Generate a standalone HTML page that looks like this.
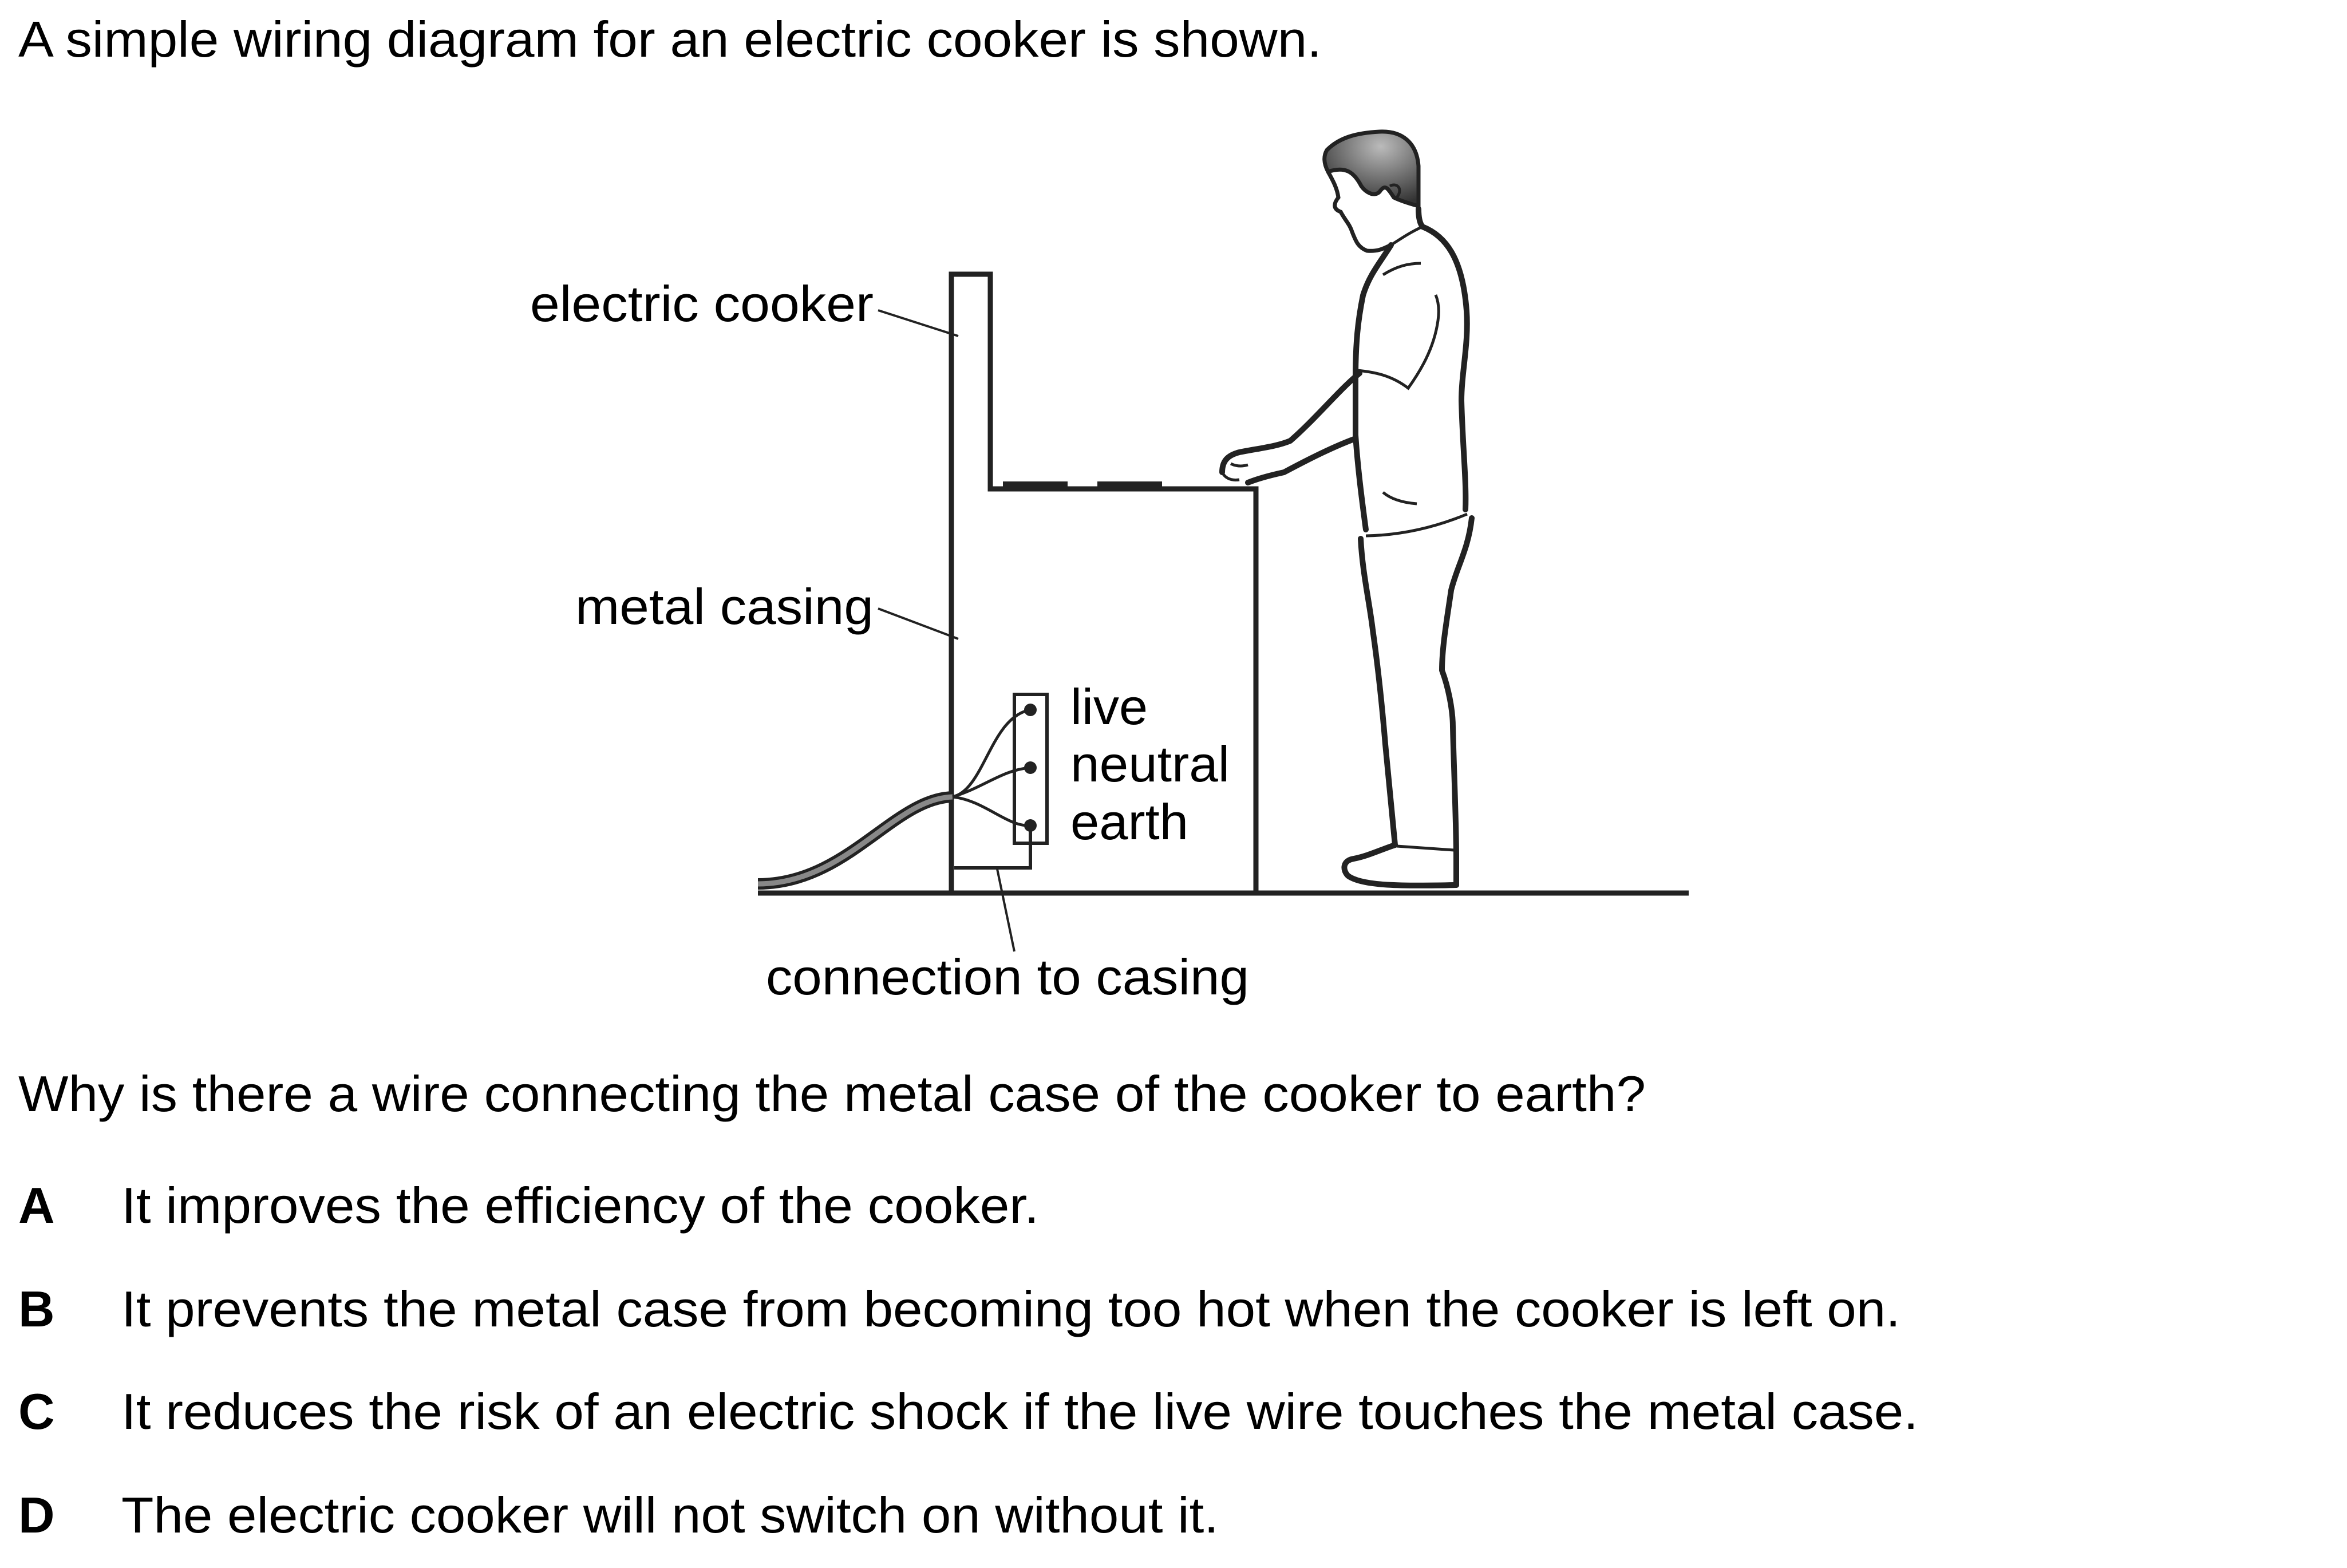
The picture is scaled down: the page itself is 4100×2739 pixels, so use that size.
<!DOCTYPE html>
<html><head><meta charset="utf-8"><style>
html,body{margin:0;padding:0;background:#fff;}
svg{display:block;}
text{font-family:"Liberation Sans",Arial,sans-serif;font-size:88px;fill:#000;}
</style></head><body>
<svg width="4100" height="2739" viewBox="0 0 4100 2739" xmlns="http://www.w3.org/2000/svg">
<defs>
<radialGradient id="hair" cx="0.6" cy="0.2" r="0.8">
<stop offset="0" stop-color="#bbb"/><stop offset="1" stop-color="#333"/>
</radialGradient>
</defs>
<text x="32" y="99" textLength="2277" lengthAdjust="spacingAndGlyphs">A simple wiring diagram for an electric cooker is shown.</text>

<text x="926" y="561" textLength="600" lengthAdjust="spacingAndGlyphs">electric cooker</text>
<text x="1005" y="1090" textLength="521" lengthAdjust="spacingAndGlyphs">metal casing</text>
<text x="1870" y="1265" textLength="135" lengthAdjust="spacingAndGlyphs">live</text>
<text x="1870" y="1365" textLength="278" lengthAdjust="spacingAndGlyphs">neutral</text>
<text x="1870" y="1466" textLength="206" lengthAdjust="spacingAndGlyphs">earth</text>
<text x="1338" y="1737" textLength="844" lengthAdjust="spacingAndGlyphs">connection to casing</text>

<g stroke="#222" fill="none" stroke-width="4">
<line x1="1534" y1="542" x2="1674" y2="587"/>
<line x1="1534" y1="1063" x2="1674" y2="1116"/>
<line x1="1742" y1="1518" x2="1772" y2="1662"/>
</g>

<line x1="1324" y1="1560" x2="2950" y2="1560" stroke="#222" stroke-width="9"/>
<path d="M1662,1560 V479 H1730 V854 H2194 V1560" fill="none" stroke="#222" stroke-width="9"/>
<rect x="1752" y="841" width="113" height="11" fill="#222"/>
<rect x="1917" y="841" width="113" height="11" fill="#222"/>

<rect x="1772" y="1213" width="57" height="260" fill="none" stroke="#222" stroke-width="6"/>
<path d="M1800,1442 V1516 H1667" fill="none" stroke="#222" stroke-width="6"/>
<path d="M1324,1544 C1480,1544 1560,1395 1664,1392" fill="none" stroke="#222" stroke-width="20"/>
<path d="M1324,1544 C1480,1544 1560,1395 1664,1392" fill="none" stroke="#888" stroke-width="9"/>
<g fill="none" stroke="#222" stroke-width="5">
<path d="M1664,1392 C1720,1380 1730,1252 1800,1240"/>
<path d="M1664,1392 C1720,1375 1750,1345 1800,1341"/>
<path d="M1664,1392 C1720,1398 1760,1445 1800,1442"/>
</g>
<g fill="#222">
<circle cx="1800" cy="1240" r="11"/><circle cx="1800" cy="1341" r="11"/><circle cx="1800" cy="1442" r="11"/>
</g>

<!-- man -->
<path d="M2318,262 C2340,240 2370,232 2410,230 C2450,228 2475,250 2478,290 L2478,360 C2460,355 2445,350 2435,345 C2425,330 2420,320 2410,335 C2400,345 2385,335 2378,325 C2365,300 2350,290 2320,300 C2312,285 2312,272 2318,262 Z" fill="url(#hair)" stroke="#222" stroke-width="7"/>
<path d="M2320,300 C2330,318 2336,330 2338,345 C2330,355 2328,365 2342,370 C2350,385 2358,392 2362,405 C2368,420 2372,432 2388,438 C2410,440 2420,432 2430,428" fill="none" stroke="#222" stroke-width="7"/>
<path d="M2428,325 C2440,318 2452,330 2440,345" fill="none" stroke="#222" stroke-width="5"/>
<g fill="none" stroke="#222" stroke-width="10" stroke-linejoin="round" stroke-linecap="round">
<path d="M2478,365 C2478,380 2480,390 2485,396 C2525,412 2555,450 2562,543 C2566,600 2553,650 2553,700 C2555,780 2562,840 2560,890"/>
<path d="M2571,905 C2565,960 2545,990 2535,1031 C2528,1080 2519,1130 2519,1171 C2530,1200 2538,1240 2538,1270 C2540,1350 2544,1440 2544,1500 L2544,1546"/>
<path d="M2430,428 C2410,460 2392,480 2381,516 C2372,560 2368,600 2368,660 L2368,760 C2372,820 2380,880 2386,925"/>
<path d="M2377,941 C2380,1000 2392,1050 2398,1100 C2408,1170 2415,1240 2420,1300 C2428,1380 2432,1430 2437,1476"/>
<path d="M2437,1476 C2410,1485 2390,1495 2365,1500 C2345,1503 2345,1520 2355,1530 C2380,1548 2450,1548 2544,1546"/>
<path d="M2375,652 C2340,680 2300,730 2254,770 C2230,780 2200,783 2165,790 C2145,795 2135,805 2135,825"/>
<path d="M2368,766 C2330,780 2290,800 2243,825 C2220,830 2200,835 2180,843"/>
</g>
<g fill="none" stroke="#222" stroke-width="5">
<path d="M2440,1478 L2540,1485"/>
<path d="M2135,825 C2140,835 2150,840 2165,838 M2150,810 C2160,815 2170,815 2180,812"/>
<path d="M2372,647 C2400,650 2430,655 2460,678 C2480,650 2505,610 2512,560 C2515,540 2512,525 2508,515"/>
<path d="M2386,936 C2450,935 2510,920 2563,898"/>
<path d="M2416,480 C2440,465 2460,460 2482,460"/>
<path d="M2416,860 C2430,872 2450,878 2475,880"/>
<path d="M2430,428 C2450,415 2465,405 2485,396"/>
</g>

<text x="32" y="1941" textLength="2843" lengthAdjust="spacingAndGlyphs">Why is there a wire connecting the metal case of the cooker to earth?</text>
<text x="32" y="2136" font-weight="bold">A</text>
<text x="32" y="2317" font-weight="bold">B</text>
<text x="32" y="2496" font-weight="bold">C</text>
<text x="32" y="2677" font-weight="bold">D</text>
<text x="212" y="2136" textLength="1603" lengthAdjust="spacingAndGlyphs">It improves the efficiency of the cooker.</text>
<text x="212" y="2317" textLength="3108" lengthAdjust="spacingAndGlyphs">It prevents the metal case from becoming too hot when the cooker is left on.</text>
<text x="212" y="2496" textLength="3139" lengthAdjust="spacingAndGlyphs">It reduces the risk of an electric shock if the live wire touches the metal case.</text>
<text x="212" y="2677" textLength="1917" lengthAdjust="spacingAndGlyphs">The electric cooker will not switch on without it.</text>
</svg>
</body></html>
